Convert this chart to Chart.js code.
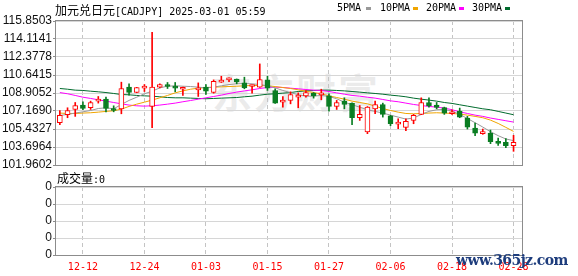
<!DOCTYPE html>
<html><head><meta charset="utf-8">
<script src="https://cdn.jsdelivr.net/npm/chart.js@4"></script>
<style>
body{margin:0;width:578px;height:276px;overflow:hidden;background:#fff;position:relative;}
canvas{position:absolute;left:0;top:0;}
.t{position:absolute;white-space:nowrap;color:#000;}
.cjk{font:12px "Noto Sans CJK SC";}
.mono{font:10px "DejaVu Sans Mono";}
.sq{position:absolute;width:5px;height:3px;}
</style></head>
<body>
<div class="t" style="left:212px;top:62px;font:bold 40px 'Noto Sans CJK SC';color:rgba(185,185,185,0.28);letter-spacing:2px;">东方财富</div>
<canvas id="main" width="578" height="276"></canvas>
<canvas id="vol" width="578" height="276"></canvas>
<div class="t" style="left:55px;top:1px;"><span class="cjk">加元兑日元</span><span class="mono">[CADJPY] 2025-03-01 05:59</span></div>
<div class="t mono" style="left:337px;top:2px;">5PMA</div><div class="sq" style="left:366px;top:7px;background:#999999"></div>
<div class="t mono" style="left:380px;top:2px;">10PMA</div><div class="sq" style="left:413px;top:7px;background:#f0a500"></div>
<div class="t mono" style="left:426px;top:2px;">20PMA</div><div class="sq" style="left:459px;top:7px;background:#ff00ff"></div>
<div class="t mono" style="left:472px;top:2px;">30PMA</div><div class="sq" style="left:505px;top:7px;background:#006b2d"></div>
<div class="t" style="left:57px;top:169px;"><span class="cjk">成交量</span><span class="mono">:0</span></div>
<div class="t" style="left:456px;top:252px;font:bold 14px 'DejaVu Serif';color:#1d3c7c;letter-spacing:-0.6px;">www.365jz.com</div>
<script>
const dates = ['12-09','12-10','12-11','12-12','12-13','12-16','12-17','12-18','12-19','12-20',
 '12-23','12-24','12-25','12-26','12-27','12-30','12-31','01-01','01-02','01-03',
 '01-06','01-07','01-08','01-09','01-10','01-13','01-14','01-15','01-16','01-17',
 '01-20','01-21','01-22','01-23','01-24','01-27','01-28','01-29','01-30','01-31',
 '02-03','02-04','02-05','02-06','02-07','02-10','02-11','02-12','02-13','02-14',
 '02-17','02-18','02-19','02-20','02-21','02-24','02-25','02-26','02-27','02-28'];
const shownDates = ['12-12','12-24','01-03','01-15','01-27','02-06','02-18','02-28'];
const open = [106.04,106.81,107.32,107.74,107.48,108.12,108.31,107.38,107.38,109.47,
 108.95,109.37,107.61,109.47,109.63,109.47,109.27,null,109.20,109.47,
 108.95,109.95,110.17,110.24,109.88,109.53,109.47,110.17,109.15,108.02,
 108.19,108.50,108.63,108.89,108.73,108.63,107.61,108.12,107.93,106.52,
 105.14,107.38,107.80,106.71,105.91,105.59,106.26,106.84,107.99,107.74,
 107.51,106.90,107.16,106.49,105.52,104.98,105.04,104.15,104.15,103.82];
const close = [106.74,107.22,107.70,107.41,107.99,108.31,107.41,107.22,109.34,108.95,
 109.43,109.56,109.47,109.72,109.53,109.37,109.37,null,109.25,109.08,
 110.04,110.11,110.24,109.98,109.40,109.63,110.20,109.37,107.93,108.12,
 108.76,108.57,108.95,108.63,108.89,107.61,107.99,107.80,106.52,106.84,
 107.54,107.80,106.84,105.94,105.97,106.17,106.74,107.99,107.67,107.51,
 106.97,107.09,106.58,105.62,105.04,105.04,104.21,104.05,103.82,104.15];
const high = [107.22,107.48,107.99,108.06,108.12,108.57,108.50,107.67,109.95,109.79,
 109.45,109.72,114.76,109.79,109.92,109.92,109.47,null,109.88,109.72,
 110.17,110.52,110.36,110.26,110.43,109.66,111.71,110.52,109.31,108.57,
 109.02,108.92,109.15,108.95,109.27,108.83,108.19,108.44,107.95,107.70,
 107.60,108.12,107.93,106.75,106.42,106.42,106.84,108.44,108.44,107.99,
 107.54,107.29,107.45,106.65,106.00,105.43,105.33,104.56,104.50,104.82];
const low = [105.84,106.52,106.65,107.29,107.32,107.93,107.09,107.09,106.90,108.70,
 108.93,109.05,105.56,109.40,109.34,109.02,108.67,null,108.57,108.76,
 108.89,109.92,110.01,109.79,109.31,108.89,109.45,109.15,107.90,107.54,
 107.86,107.48,108.50,108.41,108.25,107.16,107.32,107.38,105.84,106.26,
 104.98,106.90,106.58,105.75,105.46,105.27,105.94,106.82,107.54,107.38,
 106.84,106.84,106.52,105.43,104.79,104.92,104.02,103.86,103.63,103.28];
const ma5 = [106.74,106.84,106.97,107.09,107.22,107.41,107.48,107.38,107.80,108.19,
 108.50,108.83,109.08,109.40,109.56,109.60,109.56,109.53,109.47,109.40,
 109.47,109.60,109.72,109.79,109.82,109.79,109.72,109.60,109.40,109.15,
 108.95,108.73,108.60,108.60,108.67,108.57,108.35,108.02,107.77,107.54,
 107.29,107.13,106.97,106.77,106.58,106.39,106.49,106.84,107.13,107.29,
 107.32,107.16,106.84,106.45,106.04,105.62,105.17,104.79,104.47,104.31];
const ma10 = [106.97,106.93,106.93,106.97,107.00,107.06,107.13,107.19,107.35,107.61,
 107.83,108.02,108.22,108.44,108.67,108.92,109.11,109.27,109.37,109.43,
 109.47,109.50,109.53,109.56,109.60,109.63,109.63,109.60,109.53,109.43,
 109.34,109.21,109.08,108.95,108.83,108.63,108.47,108.31,108.12,107.99,
 107.86,107.64,107.41,107.22,107.06,106.93,106.90,106.93,106.97,107.00,
 106.97,106.93,106.87,106.77,106.65,106.52,106.29,105.97,105.59,105.20];
const ma20 = [108.95,108.83,108.67,108.50,108.38,108.25,108.12,107.99,107.86,107.74,
 107.67,107.64,107.67,107.74,107.83,107.93,108.06,108.18,108.31,108.44,
 108.57,108.70,108.86,108.99,109.11,109.21,109.34,109.44,109.47,109.44,
 109.37,109.31,109.24,109.18,109.15,109.05,108.92,108.79,108.67,108.60,
 108.50,108.41,108.28,108.15,108.06,107.93,107.80,107.70,107.61,107.54,
 107.45,107.29,107.09,106.93,106.77,106.65,106.49,106.36,106.23,106.10];
const ma30 = [109.34,109.27,109.18,109.15,109.08,109.02,108.95,108.86,108.76,108.73,
 108.67,108.63,108.60,108.54,108.47,108.44,108.44,108.41,108.38,108.35,
 108.38,108.41,108.44,108.47,108.54,108.60,108.70,108.79,108.83,108.89,
 108.95,109.05,109.11,109.15,109.18,109.18,109.15,109.11,109.05,108.99,
 108.92,108.86,108.79,108.70,108.63,108.54,108.41,108.31,108.22,108.12,
 107.99,107.90,107.77,107.64,107.51,107.38,107.29,107.13,106.97,106.81];
const priceTicks = [101.9602,103.6964,105.4327,107.1690,108.9052,110.6415,112.3778,114.1141,115.8503];
const volumeTicks = [0,1,2,3,4];
const volumeTickLabels = ['0','0','0','0','0'];

const RED = '#ff0000', GREEN = '#0a7d22';
const tickIdx = shownDates.map(d => dates.indexOf(d));
const idx = dates.map((d, i) => i).filter(i => open[i] !== null);
const up = i => close[i] >= open[i];

const frame = {
  id: 'frame',
  beforeDatasetsDraw(chart) {
    const a = chart.chartArea, c = chart.ctx;
    c.save(); c.strokeStyle = '#8c8c8c'; c.lineWidth = 1;
    c.strokeRect(Math.round(a.left) - 0.5, Math.round(a.top) - 0.5,
      Math.round(a.right - a.left) + 1, Math.round(a.bottom - a.top) + 1);
    c.restore();
  }
};

const xScale = (showLabels) => ({
  type: 'linear', min: -0.5, max: 60.1, offset: false,
  afterBuildTicks: s => { s.ticks = tickIdx.map(v => ({ value: v })); },
  afterFit: s => { s.height = showLabels ? 21 : 0; },
  grid: { color: '#c4c4c4', lineWidth: 1, drawTicks: false, offset: false },
  border: { display: false, dash: [4, 3] },
  ticks: {
    display: showLabels, color: RED, padding: 6, maxRotation: 0, autoSkip: false,
    font: { family: 'DejaVu Sans Mono', size: 10 },
    callback: v => dates[v] || ''
  }
});

const mlines = [[ma5, '#999999'], [ma10, '#f0a500'], [ma20, '#ff00ff'], [ma30, '#006b2d']];

Chart.defaults.font.family = 'Liberation Sans';
new Chart(document.getElementById('main'), {
  type: 'bar',
  data: {
    datasets: [
      {
        type: 'bar', order: 0, grouped: false,
        data: idx.map(i => ({ x: i, y: [open[i], close[i]] })),
        backgroundColor: idx.map(i => up(i) ? '#ffffff' : GREEN),
        borderColor: idx.map(i => up(i) ? RED : GREEN),
        borderWidth: 1, borderSkipped: false, barThickness: 5, minBarLength: 2
      },
      {
        type: 'bar', order: 1, grouped: false,
        data: idx.map(i => ({ x: i, y: [low[i], high[i]] })),
        backgroundColor: idx.map(i => up(i) ? RED : GREEN),
        borderWidth: 0, barThickness: 1
      },
      ...mlines.map((m, k) => ({
        type: 'line', order: 2 + k,
        data: m[0].map((v, i) => ({ x: i, y: v })),
        borderColor: m[1], borderWidth: 1, pointRadius: 0, tension: 0, fill: false
      }))
    ]
  },
  options: {
    responsive: false, animation: false, devicePixelRatio: 1,
    layout: { padding: { top: 21, right: 56, bottom: 111, left: 0 } },
    plugins: { legend: { display: false }, tooltip: { enabled: false } },
    scales: {
      x: xScale(false),
      y: {
        type: 'linear', min: 101.9602, max: 115.8503, beginAtZero: false,
        afterBuildTicks: s => { s.ticks = priceTicks.map(v => ({ value: v })); },
        afterFit: s => { s.width = 56; },
        grid: { color: '#d6d6d6', drawTicks: true, tickLength: 3, tickColor: '#8c8c8c' },
        border: { display: false },
        ticks: { color: '#111', padding: 1, autoSkip: false, font: { size: 12 }, callback: v => v.toFixed(4) }
      }
    }
  },
  plugins: [frame]
});

new Chart(document.getElementById('vol'), {
  type: 'bar',
  data: { datasets: [] },
  options: {
    responsive: false, animation: false, devicePixelRatio: 1,
    layout: { padding: { top: 187, right: 56, bottom: 0, left: 0 } },
    plugins: { legend: { display: false }, tooltip: { enabled: false } },
    scales: {
      x: xScale(true),
      y: {
        type: 'linear', min: 0, max: 4,
        afterBuildTicks: s => { s.ticks = volumeTicks.map(v => ({ value: v })); },
        afterFit: s => { s.width = 56; },
        grid: { color: '#d6d6d6', drawTicks: true, tickLength: 3, tickColor: '#8c8c8c' },
        border: { display: false },
        ticks: { color: '#111', padding: 1, autoSkip: false, font: { size: 12 }, callback: (v, i) => volumeTickLabels[i] }
      }
    }
  },
  plugins: [frame]
});
</script>
</body></html>
